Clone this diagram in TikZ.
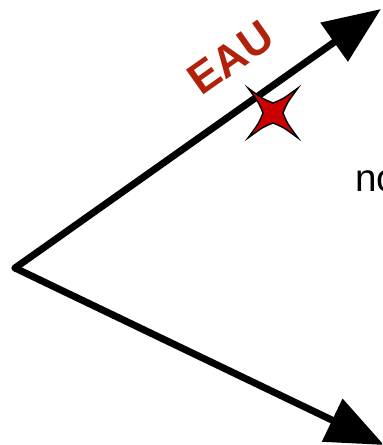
\documentclass[tikz,border=0pt]{standalone}
\usepackage{fontspec}
\setmainfont{Liberation Sans}
\usepackage{tikz}
\usetikzlibrary{arrows.meta,positioning,calc}
\definecolor{eauRed}{HTML}{B0220C}
\definecolor{starRed}{HTML}{CC0000}

\begin{document}
\begin{tikzpicture}[x=0.02cm,y=-0.02cm,
  vec/.style={line width=0.14cm,line join=round,line cap=round,-{Triangle[length=1.15cm,width=0.92cm]}}]
\useasboundingbox (0,0) rectangle (382,445);
\clip (0,0) rectangle (382,445);
% the two vectors
\coordinate (apex) at (15,268);
\coordinate (upTip) at (381,9);
\coordinate (lowTip) at (384,445);
\draw[vec] (apex) -- (upTip);
\draw[vec] (apex) -- (lowTip);
% labels
\node[eauRed,font=\bfseries\fontsize{25}{25}\selectfont,rotate=35.3] (eau) at (231,58) {EAU};
\node[anchor=base west,font=\fontsize{22}{22}\selectfont,inner sep=0pt] (no) at (355,192) {no};
% star on the upper vector
\coordinate (star) at (273,113);
\draw[fill=starRed,line width=0.8pt,line join=miter]
  (248,88) .. controls (263,99) .. (273,103)
  .. controls (283,99) .. (298,88)
  .. controls (287,103) .. (283,113)
  .. controls (287,123) .. (298,138)
  .. controls (283,127) .. (273,123)
  .. controls (263,127) .. (248,138)
  .. controls (259,123) .. (263,113)
  .. controls (259,103) .. cycle;
\end{tikzpicture}
\end{document}
